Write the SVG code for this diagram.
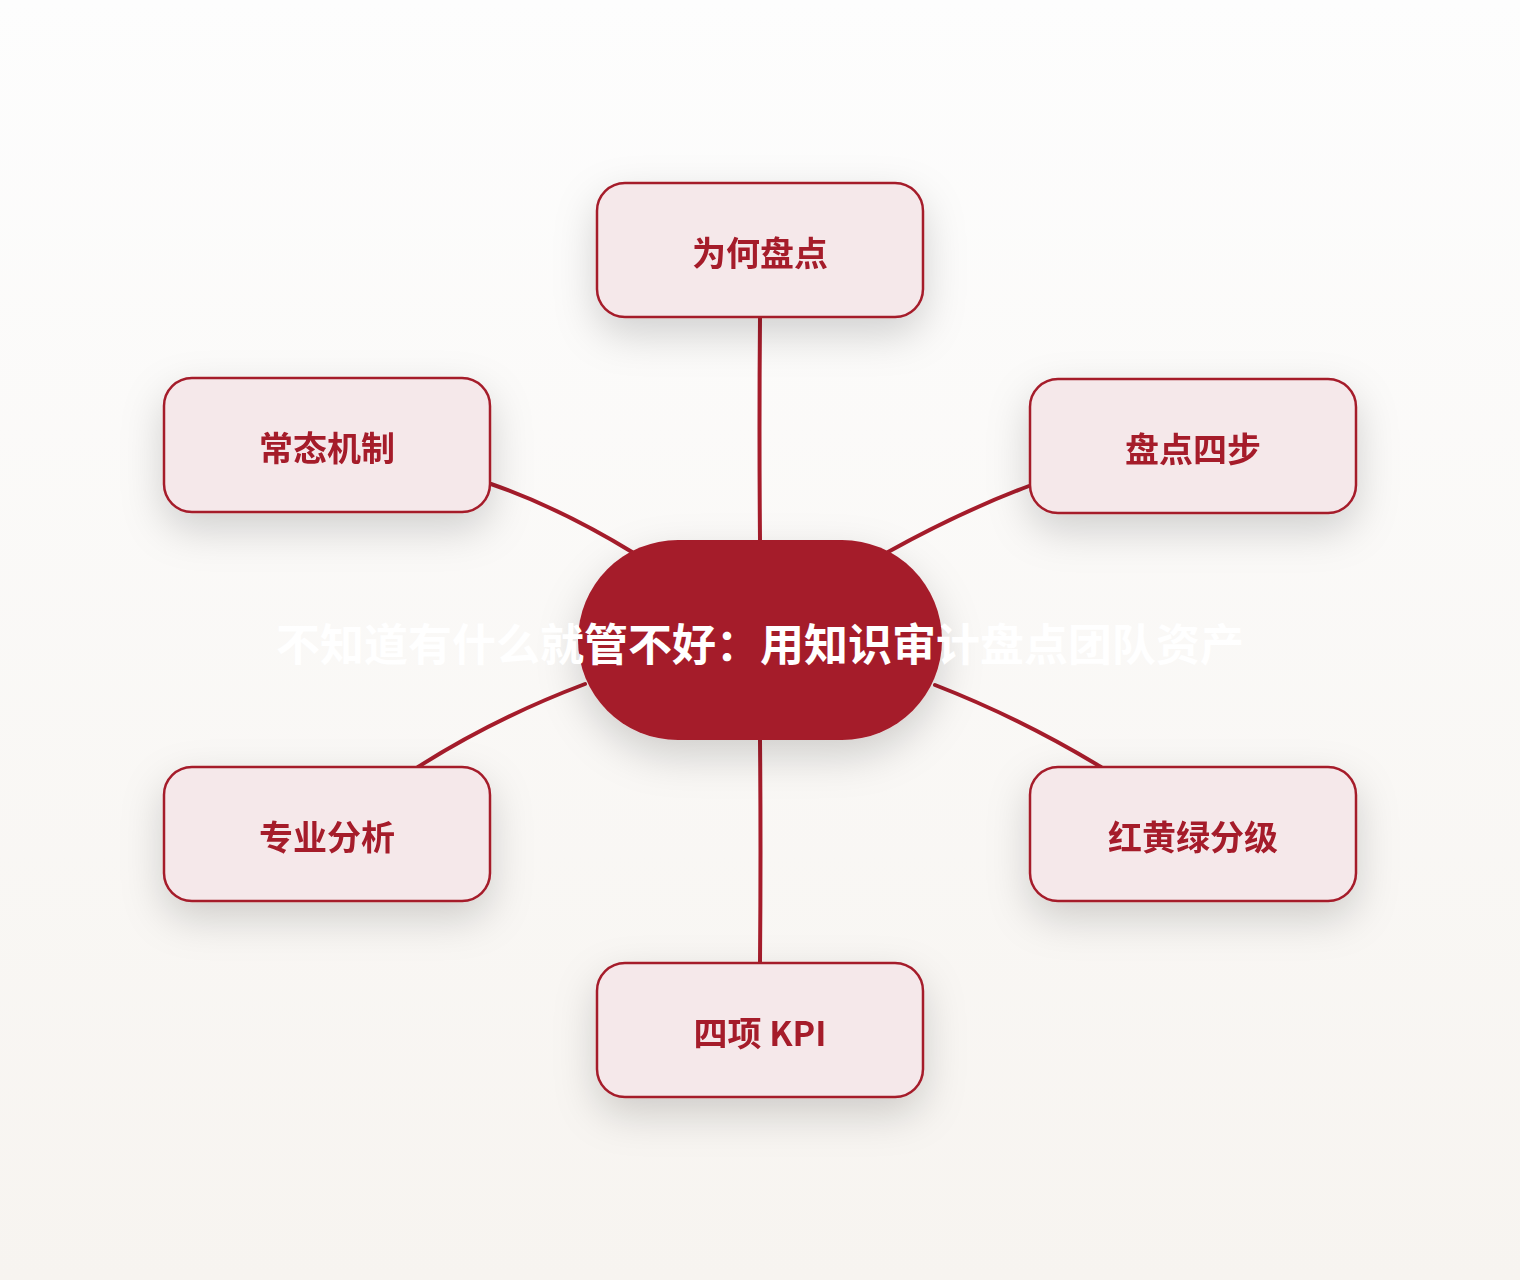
<svg xmlns="http://www.w3.org/2000/svg" width="1520" height="1280" viewBox="0 0 1520 1280">
<defs>
<linearGradient id="bg" x1="0" y1="0" x2="0" y2="1">
<stop offset="0" stop-color="#fdfdfd"/>
<stop offset="1" stop-color="#f7f4f0"/>
</linearGradient>
<filter id="sh" x="-40%" y="-40%" width="180%" height="200%">
<feDropShadow dx="0" dy="16" stdDeviation="20" flood-color="#000" flood-opacity="0.17"/>
</filter>
<style>
.node rect{fill:#f5e8ea;stroke:#a51c2b;stroke-width:2.5}
.node text{fill:#a51c2b;font-family:"Noto Sans CJK SC","Liberation Sans",sans-serif;font-weight:bold;font-size:34px;text-anchor:middle;dominant-baseline:central}
.edge{fill:none;stroke:#a51c2b;stroke-width:4;stroke-linecap:round}
.title{fill:#ffffff;font-family:"Noto Sans CJK SC","Liberation Sans",sans-serif;font-weight:bold;font-size:44px;text-anchor:middle;dominant-baseline:central}
</style>
</defs>
<rect width="1520" height="1280" fill="url(#bg)"/>
<g id="connectors">
<path class="edge" d="M760 318 Q759 430 760 540"/>
<path class="edge" d="M760 740 Q761 850 760 962"/>
<path class="edge" d="M491 484 Q560 508 632 552"/>
<path class="edge" d="M1029 486 Q960 512 888 552"/>
<path class="edge" d="M418 767 Q495 718 585 684"/>
<path class="edge" d="M1101 767 Q1020 718 935 685"/>
</g>
<g id="center" filter="url(#sh)">
<rect x="578" y="540" width="364" height="200" rx="100" ry="100" fill="#a51c2b"/>
</g>
<g id="n1" class="node" filter="url(#sh)">
<rect x="597" y="183" width="326" height="134" rx="28"/>
<text x="760" y="251">为何盘点</text>
</g>
<g id="n2" class="node" filter="url(#sh)">
<rect x="1030" y="379" width="326" height="134" rx="28"/>
<text x="1193" y="447">盘点四步</text>
</g>
<g id="n3" class="node" filter="url(#sh)">
<rect x="1030" y="767" width="326" height="134" rx="28"/>
<text x="1193" y="835">红黄绿分级</text>
</g>
<g id="n4" class="node" filter="url(#sh)">
<rect x="597" y="963" width="326" height="134" rx="28"/>
<text x="760" y="1031">四项 KPI</text>
</g>
<g id="n5" class="node" filter="url(#sh)">
<rect x="164" y="767" width="326" height="134" rx="28"/>
<text x="327" y="835">专业分析</text>
</g>
<g id="n6" class="node" filter="url(#sh)">
<rect x="164" y="378" width="326" height="134" rx="28"/>
<text x="327" y="446">常态机制</text>
</g>
<text class="title" x="760" y="642">不知道有什么就管不好：用知识审计盘点团队资产</text>
</svg>
